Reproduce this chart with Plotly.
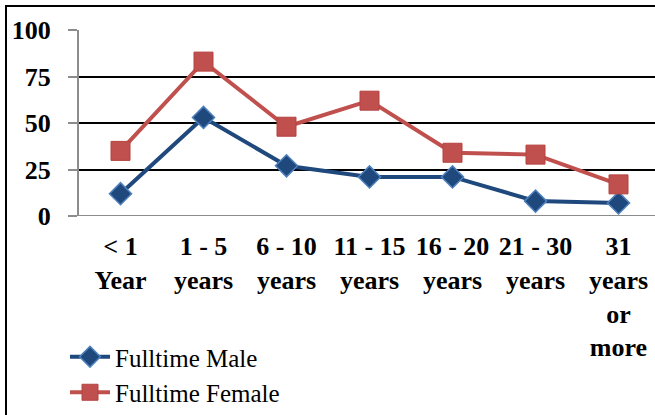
import plotly.graph_objects as go

categories = ["< 1<br>Year", "1 - 5<br>years", "6 - 10<br>years", "11 - 15<br>years",
              "16 - 20<br>years", "21 - 30<br>years", "31<br>years<br>or<br>more"]
male = [12, 53, 27, 21, 21, 8, 7]
female = [35, 83, 48, 62, 34, 33, 17]
y_ticks = [0, 25, 50, 75, 100]

W, H = 655, 415
L, R, T, B = 79, 0, 30, 199
pw = W - L - R
ph = H - T - B
slot = 83.0

fig = go.Figure()
fig.add_trace(go.Scatter(
    x=categories, y=male, name="Fulltime Male", mode="lines+markers",
    line=dict(color="#1F497D", width=4),
    marker=dict(symbol="diamond", size=17, color="#1F497D",
                line=dict(color="#4F81BD", width=1.5)),
    legendgroup="a"))
fig.add_trace(go.Scatter(
    x=categories, y=female, name="Fulltime Female", mode="lines+markers",
    line=dict(color="#C0504D", width=4),
    marker=dict(symbol="square", size=19, color="#C0504D",
                line=dict(color="#B5423F", width=1)),
    legendgroup="b"))

def px2x(p):
    return (p - L) / pw

def px2y(p):
    return (H - B - p) / ph

fig.add_shape(type="rect", xref="paper", yref="paper",
              x0=px2x(6), x1=px2x(700), y0=px2y(6), y1=px2y(460),
              line=dict(color="black", width=2), fillcolor="rgba(0,0,0,0)", layer="below")

fig.update_layout(
    width=W, height=H,
    margin=dict(l=L, r=R, t=T, b=B, autoexpand=False),
    paper_bgcolor="white", plot_bgcolor="white",
    font=dict(family="Liberation Serif", color="black"),
    showlegend=True,
    legend=dict(x=px2x(65), y=px2y(334), xanchor="left", yanchor="top",
                font=dict(size=25, family="Liberation Serif", color="black"),
                tracegroupgap=0, bgcolor="rgba(0,0,0,0)", itemwidth=40),
    xaxis=dict(type="category", range=[-0.5, -0.5 + pw / slot], automargin=False,
               showgrid=False, showline=False, zeroline=False,
               ticks="", tickfont=dict(size=26, family="Liberation Serif", color="black", weight="bold"),
               tickangle=0, ticklabelstandoff=12),
    yaxis=dict(range=[0, 100], tickvals=y_ticks, showgrid=True, gridcolor="black", gridwidth=1.5,
               automargin=False,
               showline=True, linecolor="#8C8C8C", linewidth=2, zeroline=False,
               ticks="outside", ticklen=9, tickcolor="#8C8C8C", tickwidth=1.5,
               tickfont=dict(size=26, family="Liberation Serif", color="black", weight="bold"),
               ticklabelstandoff=12),
)
fig.add_shape(type="line", xref="paper", yref="y", x0=0, x1=1, y0=0, y1=0,
              line=dict(color="#8C8C8C", width=2))

fig.write_html("out.html", config={"displayModeBar": False},
               post_script="document.body.style.margin='0';")
